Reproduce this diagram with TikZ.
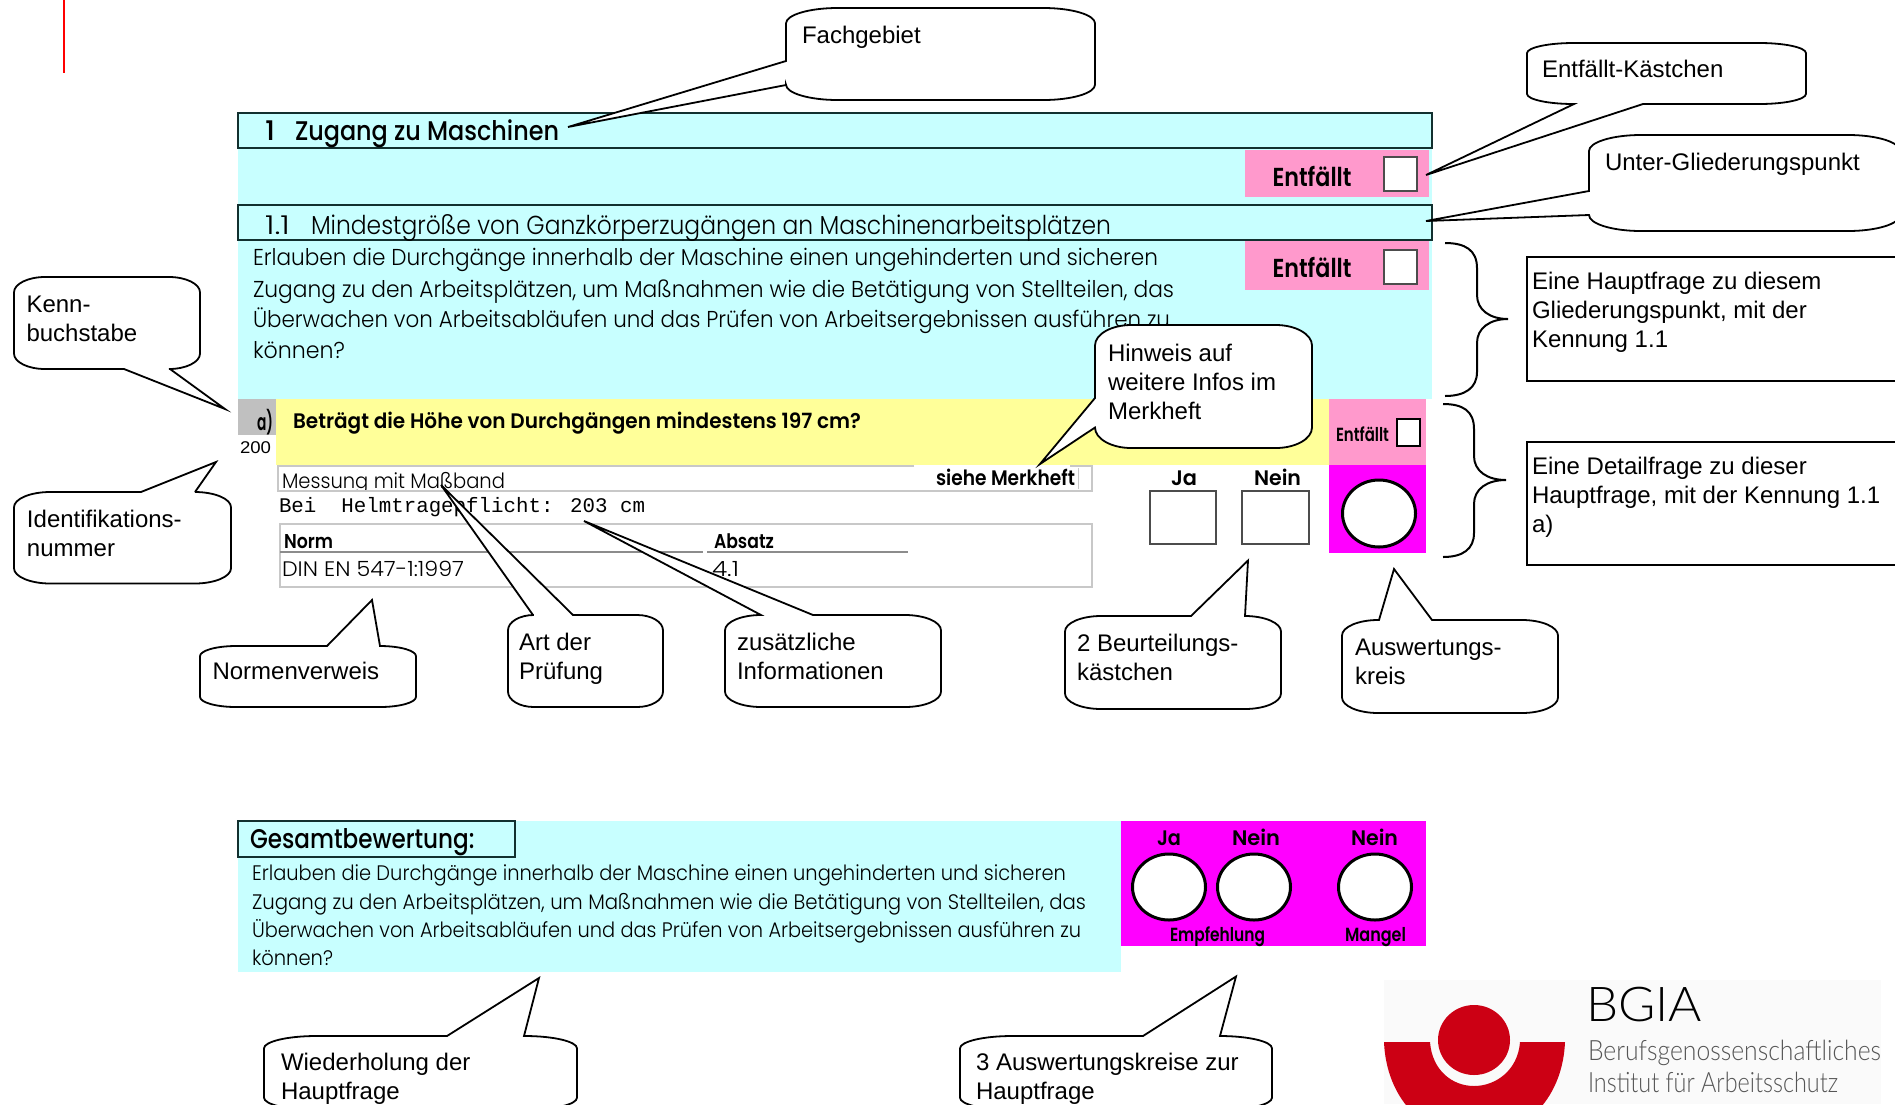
\documentclass[tikz,border=0pt]{standalone}
\usepackage{fontspec}
\usepackage{graphicx}
\setmainfont{Liberation Sans}
\newfontfamily\futl{Poppins}[UprightFont={* Light}]
\newfontfamily\futr{Poppins}[UprightFont={* Medium}]
\newfontfamily\futb{Poppins}[UprightFont={* SemiBold}]
\newfontfamily\monof{Liberation Mono}
\newfontfamily\logof{Lato}[UprightFont={* Light}]
\definecolor{cyanbg}{HTML}{C8FFFF}
\definecolor{yellowbg}{HTML}{FFFF99}
\definecolor{pinkbg}{HTML}{FF99CC}
\definecolor{magbg}{HTML}{FF00FF}
\definecolor{greycell}{HTML}{C0C0C0}
\definecolor{lightline}{HTML}{C8C8C8}
\definecolor{barline}{HTML}{12302F}
\definecolor{logored}{HTML}{CC0014}
\definecolor{logotext}{HTML}{555555}
\definecolor{logobg}{HTML}{FAFAFA}
\tikzset{
 txt/.style={inner sep=0pt,outer sep=0pt,anchor=base west,text=black},
 lbl/.style={inner sep=0pt,outer sep=0pt,anchor=north west,align=left,text=black,font=\fontsize{24}{29}\selectfont},
 calloutshape/.style={draw=black,line width=1.8pt,fill=white,line join=miter},
 barbox/.style={draw=barline,line width=2pt,fill=cyanbg,outer sep=0pt},
 chk/.style={draw=black!70,line width=2pt,fill=white,outer sep=0pt},
 ring/.style={draw=black,line width=3pt,fill=white},
 thinbox/.style={draw=lightline,line width=2pt},
 bracepath/.style={draw=black,line width=2pt},
 infobox/.style={draw=black,line width=2.4pt,fill=white,outer sep=0pt}
}
% name, x, baseline y, width, font, text
\newcommand\fitn[6]{\node[txt] (#1) at (#2,#3) {\resizebox{#4pt}{\height}{#5#6}};}
% name, x, first baseline, text
\newcommand\calltext[4]{\node[lbl] (#1) at (#2,{#3-18}) {\rule{0pt}{18pt}#4};}
% L T R B topfrag rightfrag bottomfrag leftfrag
\newcommand\callout[8]{%
 \pgfmathsetmacro\rxx{(#3-#1)/6}\pgfmathsetmacro\ryy{(#4-#2)/6}%
 \pgfmathsetmacro\xa{#1+\rxx}\pgfmathsetmacro\xb{#3-\rxx}%
 \pgfmathsetmacro\ya{#2+\ryy}\pgfmathsetmacro\yb{#4-\ryy}%
 \pgfmathsetmacro\xaa{#1+.45*\rxx}\pgfmathsetmacro\xbb{#3-.45*\rxx}%
 \pgfmathsetmacro\yaa{#2+.45*\ryy}\pgfmathsetmacro\ybb{#4-.45*\ryy}%
 \draw[calloutshape] (\xa,#2) #5 -- (\xb,#2) .. controls (\xbb,#2) and (#3,\yaa) .. (#3,\ya)
  #6 -- (#3,\yb) .. controls (#3,\ybb) and (\xbb,#4) .. (\xb,#4)
  #7 -- (\xa,#4) .. controls (\xaa,#4) and (#1,\ybb) .. (#1,\yb)
  #8 -- (#1,\ya) .. controls (#1,\yaa) and (\xaa,#2) .. (\xa,#2) -- cycle;}
\begin{document}
\begin{tikzpicture}[x=1pt,y=-1pt]
\useasboundingbox (0,0) rectangle (1895,1104);
\clip (0,0) rectangle (1895,1104);
\fill[white] (0,0) rectangle (1895,1104);
% red mark
\draw[red,line width=2.5pt] (64,0) -- (64,73);
% upper form background
\fill[cyanbg] (238,148) rectangle (1432,399);
\node[barbox,inner sep=0pt,anchor=north west,minimum width=1194pt,minimum height=35pt] (bar1) at (238,113) {};
\node[barbox,inner sep=0pt,anchor=north west,minimum width=1194pt,minimum height=35pt] (bar2) at (238,205) {};
\fitn{t1}{265}{140}{10}{\fontsize{27}{30}\futr}{1}
\fitn{t1b}{295}{140}{264}{\fontsize{27}{30}\futr}{Zugang zu Maschinen}
\fitn{t2}{265}{234}{25}{\fontsize{26}{30}\futl}{1.1}
\fitn{t2b}{311}{234}{800}{\fontsize{26}{30}\futl}{Mindestgröße von Ganzkörperzugängen an Maschinenarbeitsplätzen}
% Entfaellt 1 + 2
\fill[pinkbg] (1245,150) rectangle (1429,197);
\fill[pinkbg] (1245,241) rectangle (1429,290);
\node[chk,inner sep=0pt,minimum width=33pt,minimum height=34pt,anchor=north west] (c1) at (1384,157) {};
\node[chk,inner sep=0pt,minimum width=33pt,minimum height=34pt,anchor=north west] (c2) at (1384,250) {};
\fitn{e1}{1272.5}{186}{79}{\fontsize{26}{30}\futb}{Entfällt}
\fitn{e2}{1272.5}{277}{79}{\fontsize{26}{30}\futb}{Entfällt}
% main question
\fitn{q1}{253}{265}{905}{\fontsize{23}{30}\futl}{Erlauben die Durchgänge innerhalb der Maschine einen ungehinderten und sicheren}
\fitn{q2}{253}{297}{921}{\fontsize{23}{30}\futl}{Zugang zu den Arbeitsplätzen, um Maßnahmen wie die Betätigung von Stellteilen, das}
\fitn{q3}{253}{327}{917}{\fontsize{23}{30}\futl}{Überwachen von Arbeitsabläufen und das Prüfen von Arbeitsergebnissen ausführen zu}
\fitn{q4}{253}{358}{92}{\fontsize{23}{30}\futl}{können?}
% detail question
\fill[yellowbg] (276,399) rectangle (1329,465);
\fill[greycell] (238,399) rectangle (276,435);
\fitn{ka}{257}{430}{16}{\fontsize{23}{24}\futb}{a)}
\node[txt,font=\fontsize{17}{20}\selectfont] (idn) at (240,453) {\resizebox{31pt}{\height}{200}};
\fitn{d1}{293}{428}{568}{\fontsize{21}{26}\futb}{Beträgt die Höhe von Durchgängen mindestens 197 cm?}
\fill[pinkbg] (1329,399) rectangle (1426,465);
\fill[magbg] (1329,465) rectangle (1426,553);
\fitn{e3}{1336}{441}{53}{\fontsize{19}{20}\futb}{Entfällt}
\node[chk,draw=black,inner sep=0pt,minimum width=23pt,minimum height=27pt,anchor=north west] (c3) at (1397,419) {};
\draw[ring] (1379,513.5) ellipse [x radius=36.5,y radius=33.5];
% measurement row
\fitn{m1}{282}{488}{223}{\fontsize{21}{26}\futl}{Messung mit Maßband}
\fill[white] (277,491) rectangle (1092,497);
\draw[thinbox] (914,466) -- (278,466) -- (278,491) -- (1092,491) -- (1092,466) -- (1070,466);
\draw[lightline,line width=1pt] (1078,468) -- (1078,489);
\fitn{sm}{936}{485}{139}{\fontsize{21}{24}\futb}{siehe Merkheft}
\node[txt,font=\fontsize{20.8}{24}\monof] (mono) at (279,512) {Bei\ \ Helmtragepflicht: 203 cm};
% norm table
\draw[thinbox] (280,524) rectangle (1092,587);
\draw[lightline!70!black,line width=1.5pt] (280,552) -- (703,552) (707,552) -- (908,552);
\fitn{nn}{284}{548}{49}{\fontsize{20}{24}\futb}{Norm}
\fitn{na}{714}{548}{60}{\fontsize{20}{24}\futb}{Absatz}
\fitn{din}{282}{576}{182}{\fontsize{21}{24}\futl}{DIN EN 547-1:1997}
\fitn{abs}{712}{576}{27}{\fontsize{21}{24}\futl}{4.1}
% Ja / Nein boxes
\fitn{ja}{1171}{485}{26}{\fontsize{21}{24}\futb}{Ja}
\fitn{ne}{1254}{485}{47}{\fontsize{21}{24}\futb}{Nein}
\node[chk,inner sep=0pt,minimum width=66pt,minimum height=53pt,anchor=north west] (bj) at (1150,491) {};
\node[chk,inner sep=0pt,minimum width=67pt,minimum height=53pt,anchor=north west] (bn) at (1242,491) {};
% braces
\draw[bracepath] (1445,243) .. controls (1465,243) and (1477,250) .. (1477,268) -- (1477,295) .. controls (1477,310) and (1490,319) .. (1508,319) .. controls (1490,319) and (1477,328) .. (1477,343) -- (1477,372) .. controls (1477,388) and (1465,396) .. (1445,396);
\draw[bracepath] (1443,404) .. controls (1463,404) and (1474,411) .. (1474,429) -- (1474,456) .. controls (1474,471) and (1487,480) .. (1506,480) .. controls (1487,480) and (1474,489) .. (1474,504) -- (1474,533) .. controls (1474,549) and (1463,557) .. (1443,557);
% info boxes
\node[infobox,inner sep=0pt,anchor=north west,minimum width=400pt,minimum height=124pt] (ib1) at (1527,257) {};
\node[infobox,inner sep=0pt,anchor=north west,minimum width=400pt,minimum height=123pt] (ib2) at (1527,442) {};
\calltext{ib1t}{1532}{289}{Eine Hauptfrage zu diesem\\Gliederungspunkt, mit der\\Kennung 1.1}
\calltext{ib2t}{1532}{474}{Eine Detailfrage zu dieser\\Hauptfrage, mit der Kennung 1.1\\a)}
% lower form
\fill[cyanbg] (238,820.5) rectangle (1121,972);
\fill[magbg] (1121,820.5) rectangle (1426,946);
\node[barbox,inner sep=0pt,anchor=north west,minimum width=277pt,minimum height=36.5pt] (gb) at (238,820.5) {};
\fitn{gbt}{250}{848}{224.5}{\fontsize{27}{30}\futr}{Gesamtbewertung:}
\fitn{g1}{252}{880.5}{814}{\fontsize{21}{26}\futl}{Erlauben die Durchgänge innerhalb der Maschine einen ungehinderten und sicheren}
\fitn{g2}{252}{909}{834}{\fontsize{21}{26}\futl}{Zugang zu den Arbeitsplätzen, um Maßnahmen wie die Betätigung von Stellteilen, das}
\fitn{g3}{252}{937}{829}{\fontsize{21}{26}\futl}{Überwachen von Arbeitsabläufen und das Prüfen von Arbeitsergebnissen ausführen zu}
\fitn{g4}{252}{965}{81}{\fontsize{21}{26}\futl}{können?}
\fitn{gj}{1157}{845.5}{24}{\fontsize{21}{24}\futb}{Ja}
\fitn{gn1}{1232}{845.5}{48}{\fontsize{21}{24}\futb}{Nein}
\fitn{gn2}{1351}{845.5}{47}{\fontsize{21}{24}\futb}{Nein}
\draw[ring] (1169,887) ellipse [x radius=36.5,y radius=33];
\draw[ring] (1254,887) ellipse [x radius=36.5,y radius=33];
\draw[ring] (1375,887) ellipse [x radius=36.5,y radius=33];
\fitn{emp}{1170}{941}{95}{\fontsize{19}{20}\futb}{Empfehlung}
\fitn{man}{1345}{941}{61}{\fontsize{19}{20}\futb}{Mangel}
% logo
\fill[logobg] (1384,980) rectangle (1881,1104);
\fill[logored] (1384,1042) -- (1430,1042) .. controls (1432,1070) and (1452,1086) .. (1474,1086) .. controls (1496,1086) and (1518,1070) .. (1520,1042) -- (1565,1042) .. controls (1562,1110) and (1510,1140) .. (1474,1140) .. controls (1438,1140) and (1387,1110) .. (1384,1042) -- cycle;
\fill[logored] (1474,1040) ellipse [x radius=36,y radius=35];
\node[txt,text=black] (bgia) at (1586,1021) {\resizebox{116pt}{\height}{\fontsize{48}{50}\logof BGIA}};
\node[txt,text=logotext] (bg1) at (1588,1060) {\resizebox{293pt}{\height}{\fontsize{28}{32}\logof Berufsgenossenschaftliches}};
\node[txt,text=logotext] (bg2) at (1588,1092.5) {\resizebox{250pt}{\height}{\fontsize{28}{32}\logof Institut für Arbeitsschutz}};
% callouts
\callout{786}{8}{1095}{100}{}{}{}{-- (786,85) -- (568,127) -- (786,61)}
\calltext{fach}{802}{43}{Fachgebiet}
\callout{1527}{43}{1806}{104}{}{}{-- (1643,104) -- (1426,175) -- (1574,104)}{}
\calltext{entk}{1542}{77}{Entfällt-Kästchen}
\callout{1589}{135}{1900}{231}{}{}{}{-- (1589,215) -- (1426,221) -- (1589,191)}
\calltext{unter}{1605}{170}{Unter-Gliederungspunkt}
\callout{14}{277}{200}{369}{}{}{-- (170,369) -- (225,409) -- (124,369)}{}
\calltext{kenn}{26.5}{312}{Kenn-\\buchstabe}
\callout{14}{492}{231}{583.5}{-- (141,492) -- (216,462) -- (195,492)}{}{}{}
\calltext{ident}{27}{527}{Identifikations-\\nummer}
\callout{200}{646}{416}{707}{-- (327,646) -- (372,600) -- (380,646)}{}{}{}
\calltext{norm}{212.5}{679}{Normenverweis}
\callout{508}{615}{663}{707}{-- (533,615) -- (441,485) -- (573,615)}{}{}{}
\calltext{art}{519}{650}{Art der\\Prüfung}
\callout{725}{615}{941}{707}{-- (761,615) -- (584,521) -- (813,615)}{}{}{}
\calltext{zus}{737}{650}{zusätzliche\\Informationen}
\callout{1065}{616}{1281}{709}{-- (1191,616) -- (1248,560.5) -- (1245,616)}{}{}{}
\calltext{beur}{1077}{651.5}{2 Beurteilungs-\\kästchen}
\callout{1342}{620}{1558}{713}{-- (1379,620) -- (1394,569) -- (1432,620)}{}{}{}
\calltext{ausw}{1355}{655}{Auswertungs-\\kreis}
\callout{1095}{325}{1312}{448}{}{}{}{-- (1095,427.5) -- (1040,464) -- (1095,398)}
\calltext{hinw}{1108}{361}{Hinweis auf\\weitere Infos im\\Merkheft}
\callout{264}{1036}{577}{1110}{-- (447,1036) -- (539,978) -- (524,1036)}{}{}{}
\calltext{wied}{281}{1070}{Wiederholung der\\Hauptfrage}
\callout{960}{1036}{1272}{1110}{-- (1143,1036) -- (1236,976.5) -- (1220,1036)}{}{}{}
\calltext{drei}{976}{1070}{3 Auswertungskreise zur\\Hauptfrage}
\end{tikzpicture}
\end{document}
